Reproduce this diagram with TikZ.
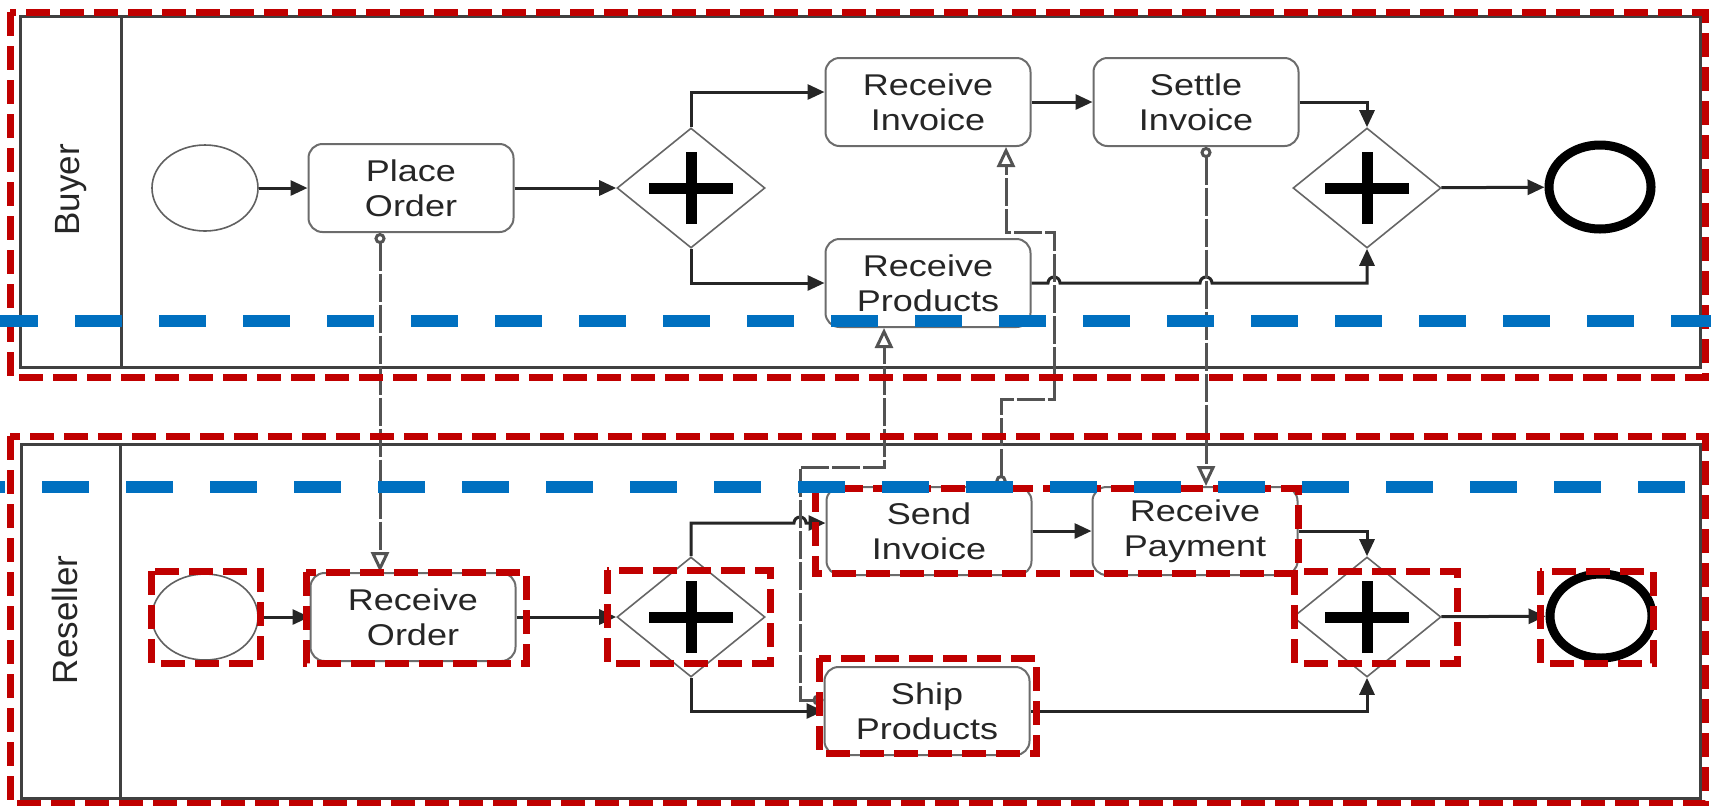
\documentclass[tikz,border=0pt]{standalone}
\usepackage{fontspec}
\newfontfamily\taskfont{Liberation Sans}[FakeStretch=1.2]
\newfontfamily\lanefont{Liberation Sans}
\usepackage{xcolor}
\usepackage{tikz}
\usetikzlibrary{shapes.geometric, arrows.meta}
\definecolor{hlred}{HTML}{C00000}
\definecolor{sepblue}{HTML}{0070C0}

\begin{document}
\begin{tikzpicture}[x=0.5pt, y=-0.5pt,
        task/.style={rectangle, draw=gray!85!black, line width=1pt, rounded corners=7pt, fill=white,
            minimum width=102.5pt, minimum height=44pt, align=center, text=black!85,
            font=\taskfont\fontsize{15}{17.5}\selectfont},
        gateway/.style={diamond, draw=gray!80!black, line width=0.8pt, fill=white,
            minimum width=74pt, minimum height=60pt, inner sep=0pt,
            path picture={\draw[draw=black, line width=5.5pt]
                ([xshift=-21pt]path picture bounding box.center) -- ([xshift=21pt]path picture bounding box.center)
                ([yshift=-18pt]path picture bounding box.center) -- ([yshift=18pt]path picture bounding box.center);}},
        startev/.style={ellipse, draw=gray!75!black, line width=0.8pt, fill=white,
            minimum width=53pt, minimum height=43pt, inner sep=0pt},
        endev/.style={ellipse, draw=black, line width=4.5pt, fill=white,
            minimum width=51pt, minimum height=42pt, inner sep=0pt},
        lane/.style={rotate=90, text=black!85, font=\lanefont\fontsize{17.5}{20}\selectfont},
        pool/.style={draw=black!75, line width=1.5pt},
        seq/.style={-{Triangle[length=8.5pt, width=7.5pt]}, line width=1.5pt, draw=black!85},
        msg/.style={{Circle[open, length=5.5pt]}-{Triangle[open, length=10pt, width=9pt]},
            line width=1.5pt, draw=gray!65!black, dash pattern=on 14pt off 1.5pt},
        hlbox/.style={draw=hlred, line width=3.5pt, dash pattern=on 12pt off 5pt},
        sepline/.style={draw=sepblue, line width=6pt, dash pattern=on 23.5pt off 18.5pt}
    ]
    \useasboundingbox (0,0) rectangle (1711,805);

    % pools
    \draw[pool] (20,16) rectangle (1700,367);
    \draw[pool] (121,16) -- (121,367);
    \draw[pool] (21,444) rectangle (1700,798);
    \draw[pool] (120,444) -- (120,798);
    \node[lane] (BL) at (71,190) {Buyer};
    \node[lane] (RL) at (65,620) {Reseller};

    % buyer
    \node[startev] (BS) at (205,188) {};
    \node[task] (PO) at (411,188) {Place\\Order};
    \node[gateway] (BG1) at (691,188) {};
    \node[task] (RI) at (928,102) {Receive\\Invoice};
    \node[task] (SI) at (1196,102) {Settle\\Invoice};
    \node[task] (RP) at (928,283) {Receive\\Products};
    \node[gateway] (BG2) at (1367,188) {};
    \node[endev] (BE) at (1600,187) {};

    % reseller
    \node[startev] (RS) at (205,617) {};
    \node[task] (RO) at (413,617) {Receive\\Order};
    \node[gateway] (RG1) at (691,617) {};
    \node[task] (SdI) at (929,531) {Send\\Invoice};
    \node[task] (RPay) at (1195,531) {Receive\\Payment};
    \node[task] (SP) at (927,711) {Ship\\Products};
    \node[gateway] (RG2) at (1367,617) {};
    \node[endev] (RE) at (1601,616) {};

    % sequence flows
    \draw[seq] (BS) -- (PO);
    \draw[seq] (PO) -- (BG1);
    \draw[seq] (BG1.north) |- ([yshift=5pt]RI.west);
    \draw[seq] (BG1.south) |- (RP.west);
    \draw[seq] (RI) -- (SI);
    \draw[seq] (SI.east) -| (BG2.north);
    \draw[seq] (RP.east) -- (1048,283) arc[start angle=180, end angle=0, radius=3pt]
        -- (1200,283) arc[start angle=180, end angle=0, radius=3pt] -| (BG2.south);
    \draw[seq] (BG2) -- (BE);

    \draw[seq] (RS) -- (RO);
    \draw[seq] (RO) -- (RG1);
    \draw[seq] (RG1.north) |- (794,523) arc[start angle=180, end angle=0, radius=3pt]
        -- ([yshift=4pt]SdI.west);
    \draw[seq] (RG1.south) |- (SP.west);
    \draw[seq] (SdI) -- (RPay);
    \draw[seq] (RPay.east) -| (RG2.north);
    \draw[seq] (SP.east) -| (RG2.south);
    \draw[seq] (RG2) -- (RE);

    % message flows
    \draw[msg] ([xshift=-15.5pt]PO.south) -- ([xshift=-15.5pt]PO.south |- RO.north);
    \draw[msg] ([xshift=5pt]SI.south) -- ([xshift=5pt]SI.south |- RPay.north);
    \draw[msg] ([yshift=5.5pt]SP.west) -| (800,467) -| ([xshift=-22pt]RP.south);
    \draw[msg] ([xshift=36pt]SdI.north) |- (1054,399) |- (1006,232) -- ([xshift=39pt]RI.south);

    % highlight boxes
    \draw[hlbox] (10,12) rectangle (1705,377);
    \draw[hlbox] (10,436) rectangle (1705,803);
    \draw[hlbox] (151,571) rectangle (260,663);
    \draw[hlbox] (306,572) rectangle (526,663);
    \draw[hlbox] (607,570) rectangle (770,663);
    \draw[hlbox] (815,488) rectangle (1298,573);
    \draw[hlbox] (819,658) rectangle (1036,753);
    \draw[hlbox] (1294,571) rectangle (1457,663);
    \draw[hlbox] (1540,571) rectangle (1653,663);

    % separators
    \draw[sepline] (-9,321) -- (1720,321);
    \draw[sepline] (-42,487) -- (1720,487);
\end{tikzpicture}
\end{document}
